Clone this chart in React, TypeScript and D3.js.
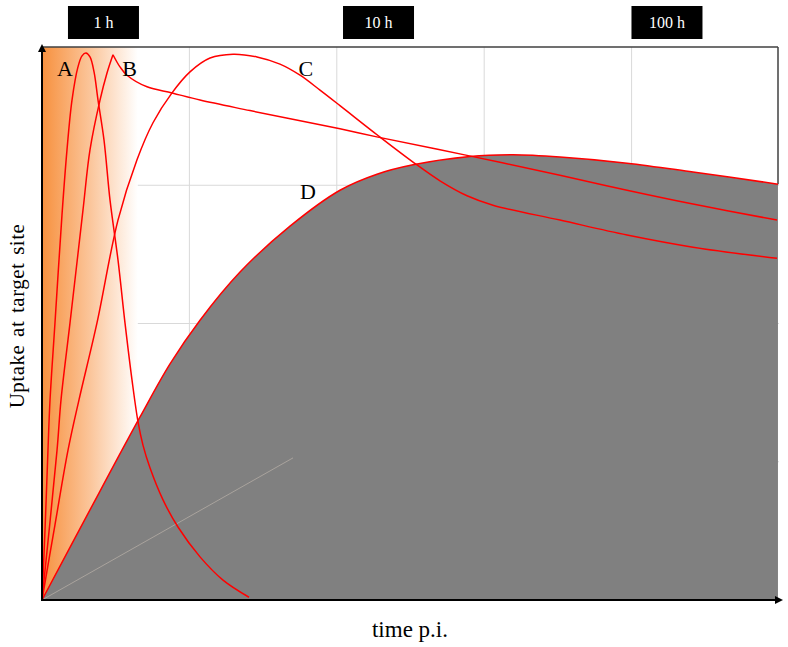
import React from 'react';
import * as d3 from 'd3';

// curve values, x = time p.i. (plot units 0-100), y = uptake (0-100)
const curveA: [number, number][] = [
  [0, 0], [0.41, 12.7], [0.81, 27.1], [1.09, 36.2], [1.76, 50.1], [2.71, 69.6], [3.39, 81.4],
  [4.07, 90.4], [4.88, 96.4], [5.43, 98.4], [5.97, 98.9], [6.51, 98.2], [7.06, 95.5], [7.6, 90.4],
  [8.41, 83.2], [9.23, 72.3], [10.31, 61.5], [11.26, 50.1], [12.21, 39.8], [13.03, 32.2], [13.7, 28.0],
  [14.65, 23.9], [16.42, 18.1], [18.45, 13.2], [21.44, 7.8], [24.56, 3.6], [28.09, 0.5],
];
const curveBRise: [number, number][] = [
  [0, 0], [2.04, 27.1], [2.58, 36.2], [3.8, 50.1], [5.56, 70.5], [6.51, 81.4], [7.87, 90.4],
  [8.82, 95.3], [9.63, 98.6],
];
const curveBDecay: [number, number][] = [
  [9.63, 98.6], [10.58, 96.4], [11.53, 94.9], [14.25, 92.8], [17.64, 91.7], [21.44, 90.4],
  [28.22, 88.5], [40.43, 85.2], [45.59, 83.7], [57.67, 80.4], [70.28, 76.8], [79.38, 74.1],
  [88.33, 71.6], [99.73, 68.7],
];
const curveC: [number, number][] = [
  [0, 0], [1.76, 13.6], [3.53, 27.1], [5.02, 36.2], [7.46, 50.1], [10.31, 68.7], [12.89, 79.6],
  [15.06, 86.3], [17.64, 91.7], [20.08, 95.5], [22.8, 98.0], [25.92, 98.7], [29.17, 98.2],
  [32.29, 96.9], [35.01, 94.9], [37.72, 92.2], [40.43, 89.4], [45.59, 84.0], [50.34, 79.2],
  [54.0, 75.8], [57.67, 73.1], [61.19, 71.4], [70.28, 68.7], [79.38, 66.0], [88.33, 63.8], [99.73, 61.8],
];
const curveD: [number, number][] = [
  [0, 0], [6.51, 16.3], [13.3, 33.1], [17.37, 42.7], [21.44, 50.6], [26.87, 59.3], [33.65, 67.6],
  [40.43, 74.1], [45.45, 77.0], [50.34, 78.7], [58.07, 80.2], [63.91, 80.5], [70.28, 80.1],
  [79.38, 79.0], [88.33, 77.4], [99.86, 75.2],
];
const faintLine: [number, number][] = [[0, 0], [34.06, 25.7]];

const curveLabels = ['A', 'B', 'C', 'D'];
const curveLabelAt: [number, number][] = [[3.1, 96.2], [11.9, 96.2], [35.8, 96.2], [36.1, 73.8]];

const timeMarks = ['1 h', '10 h', '100 h'];
const timeMarkAt = [8.34, 45.66, 84.8];

const xGrid = [20, 40, 60, 80];
const yGrid = [25, 50, 75];

export default function App() {
  const width = 788;
  const height = 647;
  const x0 = 42, x1 = 779, y0 = 600, y1 = 47;

  const x = d3.scaleLinear().domain([0, 100]).range([x0, x1]);
  const y = d3.scaleLinear().domain([0, 100]).range([y0, y1]);

  const line = d3.line<[number, number]>()
    .x(d => x(d[0]))
    .y(d => y(d[1]))
    .curve(d3.curveCatmullRom.alpha(0.5));
  const area = d3.area<[number, number]>()
    .x(d => x(d[0]))
    .y0(y(0))
    .y1(d => y(d[1]))
    .curve(d3.curveCatmullRom.alpha(0.5));

  const red = '#ff0000';
  const serif = '"Liberation Serif", "Times New Roman", serif';

  return (
    <svg width={width} height={height} style={{ position: 'absolute', left: 0, top: 0, background: '#fff' }}>
      <defs>
        <linearGradient id="early" x1="0" x2="1" y1="0" y2="0">
          <stop offset="0%" stopColor="#f7913f" />
          <stop offset="50%" stopColor="#fbc59a" />
          <stop offset="100%" stopColor="#ffffff" />
        </linearGradient>
      </defs>

      {/* grid */}
      {xGrid.map(g => (
        <line key={'gx' + g} x1={x(g)} x2={x(g)} y1={y1} y2={y0} stroke="#d9d9d9" strokeWidth={1} />
      ))}
      {yGrid.map(g => (
        <line key={'gy' + g} x1={x0} x2={x1} y1={y(g)} y2={y(g)} stroke="#d9d9d9" strokeWidth={1} />
      ))}

      {/* early uptake band */}
      <rect x={x0} y={y1} width={x(13) - x0} height={y0 - y1} fill="url(#early)" />

      {/* D area */}
      <path d={area(curveD) || ''} fill="#808080" />
      <path d={line(faintLine) || ''} stroke="#b3aba4" strokeWidth={1} fill="none" opacity={0.8} />

      {/* frame */}
      <line x1={x0} x2={x1 - 1} y1={y1} y2={y1} stroke="#404040" strokeWidth={1.5} />
      <line x1={x1 - 1} x2={x1 - 1} y1={y1} y2={y(curveD[curveD.length - 1][1])} stroke="#404040" strokeWidth={1.5} />

      {/* curves */}
      {[curveA, curveBRise, curveBDecay, curveC, curveD].map((c, i) => (
        <path key={'c' + i} d={line(c) || ''} fill="none" stroke={red} strokeWidth={1.5} />
      ))}

      {/* axes */}
      <line x1={x0} x2={x0} y1={y0 + 1} y2={y1 + 2} stroke="#000" strokeWidth={2} />
      <path d={`M${x0 - 4},${y1 + 5} L${x0},${y1 - 3} L${x0 + 4},${y1 + 5} Z`} fill="#000" />
      <line x1={x0} x2={x1} y1={y0} y2={y0} stroke="#000" strokeWidth={2} />
      <path d={`M${x1 - 4},${y0 - 4} L${x1 + 4},${y0} L${x1 - 4},${y0 + 4} Z`} fill="#000" />

      {/* curve labels */}
      {curveLabels.map((l, i) => (
        <text key={l} x={x(curveLabelAt[i][0])} y={y(curveLabelAt[i][1]) + 7.5} textAnchor="middle"
          fontFamily={serif} fontSize={22} fill="#000">{l}</text>
      ))}

      {/* time marks */}
      {timeMarks.map((t, i) => (
        <g key={t} transform={`translate(${x(timeMarkAt[i])},0)`}>
          <rect x={-35.5} y={6} width={71} height={33} fill="#000" />
          <text x={0} y={28} textAnchor="middle" fontFamily={serif} fontSize={16} fill="#fff">{t}</text>
        </g>
      ))}

      {/* axis titles */}
      <text x={410} y={637} textAnchor="middle" fontFamily={serif} fontSize={23} fill="#000">time p.i.</text>
      <text transform="translate(24,316) rotate(-90)" textAnchor="middle" fontFamily={serif} fontSize={21}
        letterSpacing={0.5} wordSpacing={2} fill="#000">Uptake at target site</text>
    </svg>
  );
}
